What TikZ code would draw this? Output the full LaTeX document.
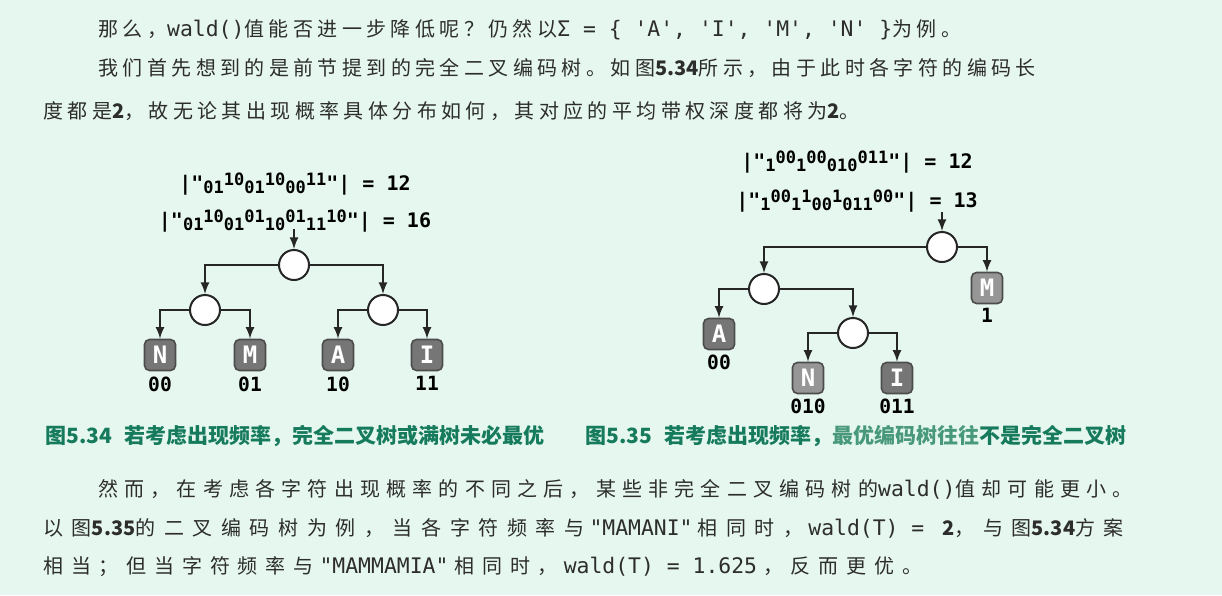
\documentclass[tikz,border=0pt]{standalone}
\usepackage{fontspec}
\setmainfont{Noto Sans CJK SC}[LetterSpace=22]
\setmonofont{DejaVu Sans Mono}
\newfontfamily\capfont{Noto Sans CJK SC}
\newfontfamily\numfont{Noto Sans CJK SC}
\newfontfamily\cjkwide{Noto Sans CJK SC}[LetterSpace=31]
\newfontfamily\cjkwider{Noto Sans CJK SC}[LetterSpace=39]
\newfontfamily\cjkwidest{Noto Sans CJK SC}[LetterSpace=43]
\usetikzlibrary{calc,positioning}

\definecolor{mint}{RGB}{229,247,238}
\definecolor{ink}{RGB}{45,45,45}
\definecolor{capgreen}{RGB}{22,122,92}
\definecolor{capfade}{RGB}{72,152,124}
\definecolor{leafgray}{RGB}{118,118,118}
\definecolor{leafpale}{RGB}{150,150,150}

\newcommand{\tx}[1]{{\fontsize{10.7}{12}\ttfamily #1}}
\newcommand{\txs}[2][2.5pt]{\hspace{#1}\tx{#2}\hspace{#1}}
\newcommand{\dg}[1]{{\numfont\bfseries #1}}
\newcommand{\cdlo}[1]{\raisebox{-1.5pt}{\fontsize{8.5}{10}\selectfont #1}}
\newcommand{\cdhi}[1]{\raisebox{2.5pt}{\fontsize{8.5}{10}\selectfont #1}}

\begin{document}
\begin{tikzpicture}[x=0.5pt,y=-0.5pt,>=latex,
  body/.style={anchor=base west,inner sep=0pt,text=ink,font=\fontsize{10}{12}\selectfont},
  figcap/.style={anchor=base west,inner sep=0pt,text=capgreen,font=\capfont\bfseries\fontsize{10.5}{12}\selectfont},
  sumtext/.style={anchor=base,inner sep=0pt,text=black,font=\ttfamily\bfseries\fontsize{10}{12}\selectfont},
  knot/.style={circle,draw=black!85,line width=1pt,fill=white,minimum size=15pt,inner sep=0pt},
  leaf/.style={rectangle,rounded corners=2.5pt,draw=black!70,line width=0.8pt,fill=leafgray,minimum size=15.5pt,inner sep=0pt,text=white,font=\ttfamily\bfseries\fontsize{12}{12}\selectfont},
  code/.style={inner sep=0pt,text=black,font=\ttfamily\bfseries\fontsize{9.8}{10}\selectfont},
  link/.style={->,line width=1pt,draw=black!85}]
\useasboundingbox (0,0) rectangle (1222,595);
\fill[mint] (0,0) rectangle (1222,595);

% text above
\node[body] (p1) at (98,36.5) {那么，\tx{wald()}值能否进一步降低呢？仍然以\tx{Σ = \{ 'A', 'I', 'M', 'N' \}}为例。};
\node[body] (p2) at (98,75.5) {我们首先想到的是前节提到的完全二叉编码树。如图\dg{5.34}所示，由于此时各字符的编码长};
\node[body] (p3) at (43,118.5) {度都是\dg{2}，故无论其出现概率具体分布如何，其对应的平均带权深度都将为\dg{2}。};

% left tree
\node[sumtext] (s1) at (295,190) {|"\cdlo{01}\cdhi{10}\cdlo{01}\cdhi{10}\cdlo{00}\cdhi{11}"| = 12};
\node[sumtext] (s2) at (295,227) {|"\cdlo{01}\cdhi{10}\cdlo{01}\cdhi{01}\cdlo{10}\cdhi{01}\cdlo{11}\cdhi{10}"| = 16};
\coordinate (tl) at (294,229);

\node[knot] (l0) at (294,265) {};
\node[knot] (l1) at ($(l0)+(-89,45)$) {};
\node[knot] (l2) at ($(l0)+(89,45)$) {};
\node[leaf] (lN) at ($(l1)+(-45,45)$) {N};
\node[leaf] (lM) at ($(l1)+(45,45)$) {M};
\node[leaf] (lA) at ($(l2)+(-45,45)$) {A};
\node[leaf] (lI) at ($(l2)+(44,45)$) {I};
\node[code,below=2.5pt of lN] (cN) {00};
\node[code,below=2.5pt of lM] (cM) {01};
\node[code,below=2.5pt of lA] (cA) {10};
\node[code,below=2.5pt of lI] (cI) {11};

\draw[link] (tl) -- (l0);
\draw[link] (l0) -| (l1);
\draw[link] (l0) -| (l2);
\draw[link] (l1) -| (lN);
\draw[link] (l1) -| (lM);
\draw[link] (l2) -| (lA);
\draw[link] (l2) -| (lI);

% right tree
\node[sumtext] (s3) at (857,168) {|"\cdlo{1}\cdhi{00}\cdlo{1}\cdhi{00}\cdlo{010}\cdhi{011}"| = 12};
\node[sumtext] (s4) at (857,207) {|"\cdlo{1}\cdhi{00}\cdlo{1}\cdhi{1}\cdlo{00}\cdhi{1}\cdlo{011}\cdhi{00}"| = 13};
\coordinate (tr) at (942,212);

\node[knot] (r0) at (942,247) {};
\node[knot] (r1) at ($(r0)+(-178,42)$) {};
\node[leaf,fill=leafpale] (rM) at ($(r0)+(45,41)$) {M};
\node[leaf] (rA) at ($(r1)+(-45,45)$) {A};
\node[knot] (r2) at ($(r1)+(89,44)$) {};
\node[leaf,fill=leafpale] (rN) at ($(r2)+(-45,45)$) {N};
\node[leaf] (rI) at ($(r2)+(44,45)$) {I};
\node[code,below=2pt of rM] (dM) {1};
\node[code,below=2pt of rA] (dA) {00};
\node[code,below=2pt of rN] (dN) {010};
\node[code,below=2pt of rI] (dI) {011};

\draw[link] (tr) -- (r0);
\draw[link] (r0) -| (r1);
\draw[link] (r0) -| (rM);
\draw[link] (r1) -| (rA);
\draw[link] (r1) -| (r2);
\draw[link] (r2) -| (rN);
\draw[link] (r2) -| (rI);

% captions
\node[figcap] (f1) at (45,443) {图5.34\hspace{6pt}若考虑出现频率，完全二叉树或满树未必最优};
\node[figcap] (f2) at (585,443) {图5.35\hspace{6pt}若考虑出现频率，{\color{capfade}最优编码树往往}不是完全二叉树};

% text below
\node[body,font=\cjkwide\fontsize{10}{12}\selectfont] (q1) at (98,496.5) {然而，在考虑各字符出现概率的不同之后，某些非完全二叉编码树的\tx{wald()}值却可能更小。};
\node[body,font=\cjkwidest\fontsize{10}{12}\selectfont] (q2) at (43,535.5) {以图\dg{5.35}的二叉编码树为例，当各字符频率与\txs{"MAMANI"}相同时，\txs{wald(T) = }\dg{2}，与图\dg{5.34}方案};
\node[body,font=\cjkwider\fontsize{10}{12}\selectfont] (q3) at (43,573.5) {相当；但当字符频率与\txs[3pt]{"MAMMAMIA"}相同时，\txs[3pt]{wald(T) = 1.625}，反而更优。};
\end{tikzpicture}
\end{document}
